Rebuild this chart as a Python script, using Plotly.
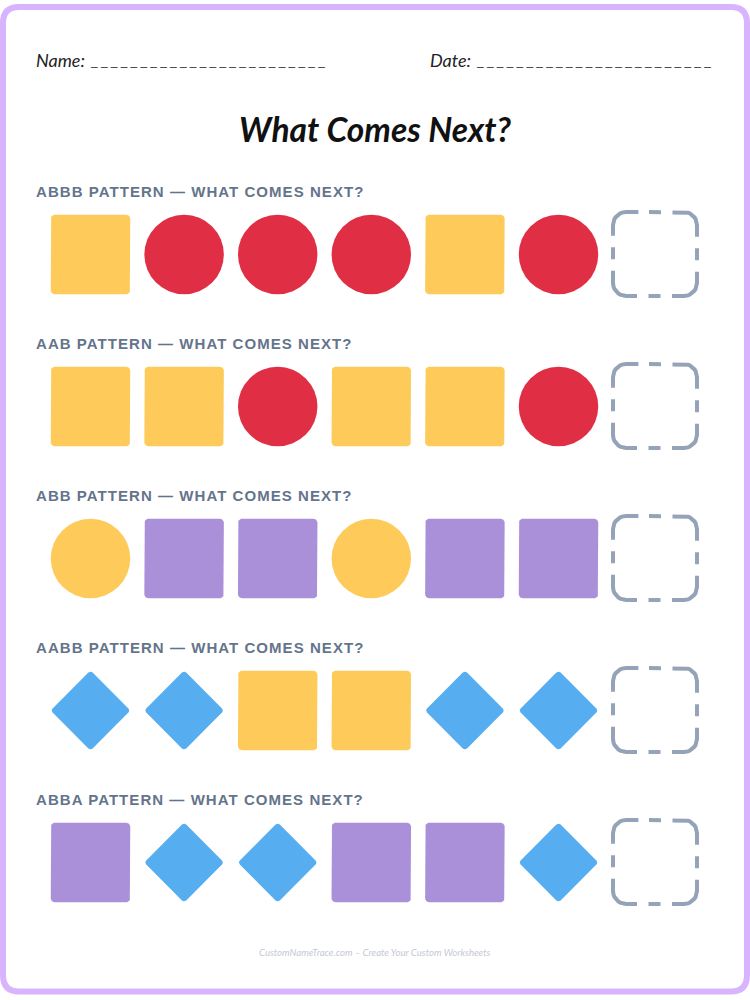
import math
import plotly.graph_objects as go

row_labels = [
    "ABBB PATTERN — WHAT COMES NEXT?",
    "AAB PATTERN — WHAT COMES NEXT?",
    "ABB PATTERN — WHAT COMES NEXT?",
    "AABB PATTERN — WHAT COMES NEXT?",
    "ABBA PATTERN — WHAT COMES NEXT?",
]
# one entry per slot: y = yellow, r = red, p = purple, b = blue
row_shapes = [
    ["square", "circle", "circle", "circle", "square", "circle"],
    ["square", "square", "circle", "square", "square", "circle"],
    ["circle", "square", "square", "circle", "square", "square"],
    ["diamond", "diamond", "square", "square", "diamond", "diamond"],
    ["square", "diamond", "diamond", "square", "square", "diamond"],
]
row_colors = [
    ["y", "r", "r", "r", "y", "r"],
    ["y", "y", "r", "y", "y", "r"],
    ["y", "p", "p", "y", "p", "p"],
    ["b", "b", "y", "y", "b", "b"],
    ["p", "b", "b", "p", "p", "b"],
]

palette = {"y": "#fecb5b", "r": "#e02f44", "p": "#aa8fd9", "b": "#56aef0"}
BORDER = "#d8b4fe"
LABEL = "#64748b"
BOX = "#94a3b8"
HAND = "Lato"

SLOT0, SLOT_STEP = 90.5, 93.6
ROW0, ROW_STEP = 254.5, 152
BOX_X = 655
SIZE = 79.5


def arc(cx, cy, r, a0, a1, n=10):
    return [(cx + r * math.cos(math.radians(a0 + (a1 - a0) * i / n)),
             cy + r * math.sin(math.radians(a0 + (a1 - a0) * i / n))) for i in range(n + 1)]


def round_square(cx, cy, half, r):
    pts = []
    pts += arc(cx + half - r, cy - half + r, r, -90, 0)
    pts += arc(cx + half - r, cy + half - r, r, 0, 90)
    pts += arc(cx - half + r, cy + half - r, r, 90, 180)
    pts += arc(cx - half + r, cy - half + r, r, 180, 270)
    pts.append(pts[0])
    return pts


def round_diamond(cx, cy, half, r):
    # tips are slightly rounded, same polygon as the square turned 45 degrees
    side = half * math.sqrt(2) / 2
    out = []
    for x, y in round_square(0, 0, side, r):
        out.append((cx + (x - y) * math.sqrt(0.5), cy + (x + y) * math.sqrt(0.5)))
    return out


def dashed_box(cx, cy, half, r):
    # starts at the short dash of the top edge so that the pattern sits evenly on all sides
    pts = [(cx - 6, cy - half), (cx + half - r, cy - half)]
    pts += arc(cx + half - r, cy - half + r, r, -90, 0)
    pts += arc(cx + half - r, cy + half - r, r, 0, 90)
    pts += arc(cx - half + r, cy + half - r, r, 90, 180)
    pts += arc(cx - half + r, cy - half + r, r, 180, 270)
    pts.append((cx - 6, cy - half))
    return pts


fig = go.Figure()

for r, (shapes, colors) in enumerate(zip(row_shapes, row_colors)):
    cy = ROW0 + r * ROW_STEP
    for i, (shape, c) in enumerate(zip(shapes, colors)):
        cx = SLOT0 + i * SLOT_STEP
        if shape == "circle":
            fig.add_trace(go.Scatter(x=[cx], y=[cy], mode="markers", showlegend=False,
                                     marker=dict(symbol="circle", size=SIZE, color=palette[c], line=dict(width=0))))
            continue
        if shape == "square":
            pts = round_square(cx, cy, SIZE / 2, 4)
        else:
            pts = round_diamond(cx, cy, SIZE / 2 + 0.25, 3)
        fig.add_trace(go.Scatter(x=[p[0] for p in pts], y=[p[1] for p in pts], mode="lines", fill="toself",
                                 fillcolor=palette[c], line=dict(width=0), showlegend=False))
    box = dashed_box(BOX_X, cy - 0.5, 42, 13)
    fig.add_trace(go.Scatter(x=[p[0] for p in box], y=[p[1] for p in box], mode="lines", showlegend=False,
                             line=dict(color=BOX, width=4, dash="12px,11.5px,43.5px,11.5px")))
    label = f"<b><span style=\"letter-spacing:1.05px\">{row_labels[r]}</span></b>"
    fig.add_annotation(x=34, y=cy - 63, text=label, showarrow=False, xanchor="left",
                       font=dict(family="Liberation Sans", size=15, color=LABEL))

fig.add_annotation(x=34, y=60, text="<i>Name:</i>", showarrow=False, xanchor="left",
                   font=dict(family=HAND, size=18, color="#222222"))
fig.add_annotation(x=428, y=60, text="<i>Date:</i>", showarrow=False, xanchor="left",
                   font=dict(family=HAND, size=18, color="#222222"))
blank = " ".join(["_"] * 24)
fig.add_annotation(x=87.5, y=61, text=blank, showarrow=False, xanchor="left",
                   font=dict(family="Liberation Sans", size=11.85, color="#333333"))
fig.add_annotation(x=473.5, y=61, text=blank, showarrow=False, xanchor="left",
                   font=dict(family="Liberation Sans", size=11.85, color="#333333"))
fig.add_annotation(x=375, y=129, text="<b><i>What Comes Next?</i></b>", showarrow=False,
                   font=dict(family=HAND, size=33.5, color="#111111"))
fig.add_annotation(x=375, y=952, text="<i>CustomNameTrace.com – Create Your Custom Worksheets</i>", showarrow=False,
                   font=dict(family=HAND, size=9.6, color="#c4c9d2"))

# page frame
fig.add_shape(type="path", layer="below", line=dict(color=BORDER, width=6), fillcolor="white",
              path="M 19 7 L 731 7 Q 747 7 747 23 L 747 975 Q 747 991.5 731 991.5 L 19 991.5 Q 3 991.5 3 975 L 3 23 Q 3 7 19 7 Z")

fig.update_layout(
    width=750, height=1000, margin=dict(l=0, r=0, t=0, b=0),
    paper_bgcolor="white", plot_bgcolor="white", showlegend=False,
    xaxis=dict(range=[0, 750], visible=False, fixedrange=True),
    yaxis=dict(range=[1000, 0], visible=False, fixedrange=True),
)

# the page has to sit flush with the window, browsers add 8px of body margin
fig.write_html("out.html", config={"displayModeBar": False},
               post_script="document.body.style.margin='0';document.documentElement.style.overflow='hidden';")
